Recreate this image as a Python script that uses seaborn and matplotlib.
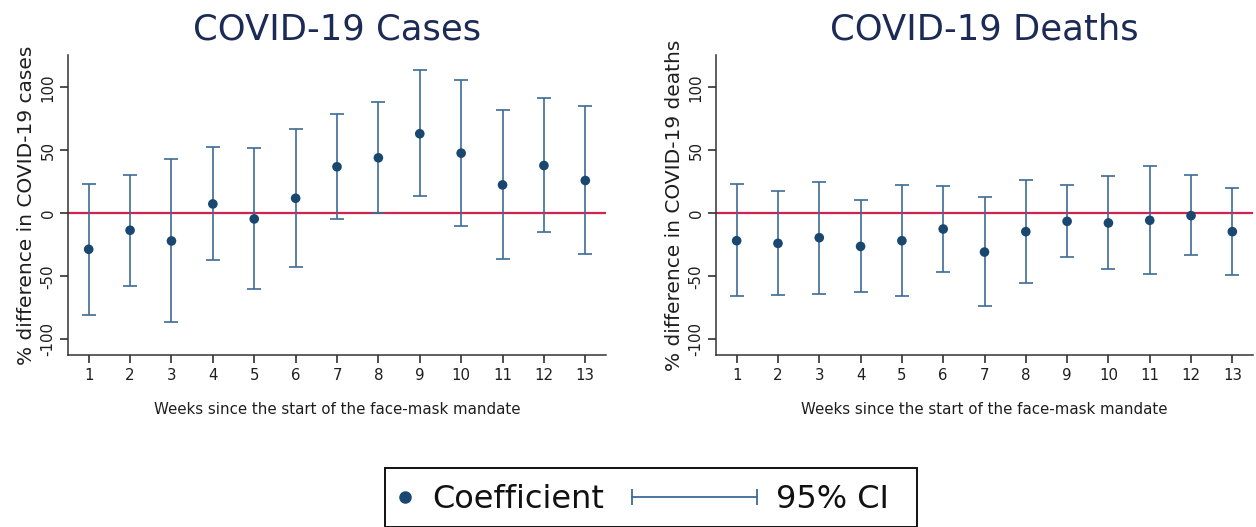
import numpy as np
import pandas as pd
import matplotlib
matplotlib.use("Agg")
import matplotlib.pyplot as plt
from matplotlib.lines import Line2D
from matplotlib.patches import Rectangle
from matplotlib.legend_handler import HandlerLine2D
import seaborn as sns

# Event-study estimates by week since the mask mandate began
weeks = list(range(1, 14))

cases_coef = [-28.6, -13.5, -22.0, 7.4, -4.5, 11.9, 36.9, 44.0, 63.1, 47.7, 22.5, 37.9, 26.0]
cases_lo = [-80.9, -57.8, -86.7, -37.1, -60.5, -43.0, -4.5, 0.0, 13.8, -9.8, -36.1, -15.1, -32.6]
cases_hi = [23.3, 30.5, 43.2, 52.3, 52.0, 67.1, 78.5, 88.3, 113.3, 105.8, 81.7, 91.5, 84.9]

deaths_coef = [-21.8, -23.9, -19.4, -26.3, -21.8, -12.5, -30.8, -14.6, -6.4, -7.7, -5.6, -1.9, -14.6]
deaths_lo = [-66.0, -65.0, -63.7, -62.3, -65.8, -46.4, -73.7, -55.7, -34.5, -44.6, -48.3, -33.4, -48.8]
deaths_hi = [23.1, 17.5, 25.2, 10.3, 22.5, 22.0, 12.7, 26.5, 22.3, 29.7, 37.4, 30.5, 19.9]

yticks = [-100, -50, 0, 50, 100]
titles = ["COVID-19 Cases", "COVID-19 Deaths"]
ylabels = ["% difference in COVID-19 cases", "% difference in COVID-19 deaths"]
xlabel = "Weeks since the start of the face-mask mandate"
legend_labels = ["Coefficient", "95% CI"]

NAVY = "#1a476f"
BAR = "#3d6b96"
RED = "#d0234e"
TITLE = "#1c2b55"
INK = "#1e1e1e"

sns.set_style("ticks")
plt.rcParams["font.family"] = ["DejaVu Sans"]

W, H = 1256, 527
fig = plt.figure(figsize=(W / 100, H / 100), dpi=100)


def px_axes(x0, y0, x1, y1):
    return fig.add_axes([x0 / W, 1 - y1 / H, (x1 - x0) / W, (y1 - y0) / H])


axes = [px_axes(68, 55, 606, 355), px_axes(716, 55, 1253, 355)]

panels = [
    (cases_coef, cases_lo, cases_hi),
    (deaths_coef, deaths_lo, deaths_hi),
]

for ax, (coef, lo, hi), title, ylab in zip(axes, panels, titles, ylabels):
    df = pd.DataFrame({"week": weeks, "coef": coef, "lo": lo, "hi": hi})
    ax.axhline(0, color=RED, lw=1.6, zorder=1)
    ax.errorbar(df["week"], df["coef"],
                yerr=[df["coef"] - df["lo"], df["hi"] - df["coef"]],
                fmt="none", ecolor=BAR, elinewidth=1.2, capsize=5.0,
                capthick=1.2, zorder=2)
    sns.scatterplot(data=df, x="week", y="coef", ax=ax, color=NAVY, s=48,
                    edgecolor="none", zorder=3, legend=False)
    ax.set_xlim(0.5, 13.5)
    ax.set_ylim(-112.5, 125.6)
    ax.set_xticks(weeks)
    ax.set_xticklabels([str(w) for w in weeks])
    ax.set_yticks(yticks)
    ax.set_yticklabels([str(t) for t in yticks], rotation=90, va="center")
    ax.tick_params(axis="both", length=6, width=1.1, color=INK,
                   labelsize=10.8, labelcolor=INK, pad=3)
    ax.set_title(title, fontsize=25.5, color=TITLE, pad=11)
    ax.set_xlabel(xlabel, fontsize=10.8, color=INK, labelpad=14)
    ax.set_ylabel(ylab, fontsize=14.5, color=INK, labelpad=3)
    for side in ["top", "right"]:
        ax.spines[side].set_visible(False)
    for side in ["left", "bottom"]:
        ax.spines[side].set_color("#333333")
        ax.spines[side].set_linewidth(1.1)

# Legend: frame plus two entries
fig.patches.append(Rectangle((385 / W, 0), (917 - 385) / W, 1 - 468 / H,
                             transform=fig.transFigure, fill=False,
                             edgecolor="#111111", lw=1.4))

dot = Line2D([], [], ls="none", marker="o", color=NAVY, markersize=8)
ci = Line2D([], [], color=BAR, lw=1.3, marker="|", markersize=12,
            markeredgewidth=1.3)

fig.legend([dot], [legend_labels[0]], loc="center left",
           bbox_to_anchor=(394 / W, 1 - 500 / H), frameon=False,
           fontsize=23, handlelength=0.7, handletextpad=0.5,
           borderpad=0, borderaxespad=0, labelcolor="#111111",
           handler_map={dot: HandlerLine2D(numpoints=1)})
fig.legend([ci], [legend_labels[1]], loc="center left",
           bbox_to_anchor=(632 / W, 1 - 500 / H), frameon=False,
           fontsize=23, handlelength=3.9, handletextpad=0.6,
           borderpad=0, borderaxespad=0, labelcolor="#111111",
           handler_map={ci: HandlerLine2D(numpoints=2, marker_pad=0)})

fig.savefig("out.png", dpi=100)
